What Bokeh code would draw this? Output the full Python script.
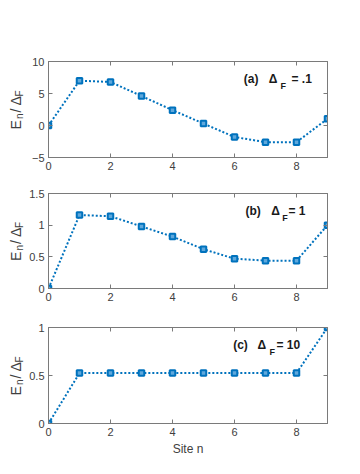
import math
from bokeh.plotting import figure
from bokeh.layouts import column, row
from bokeh.models import LinearAxis, FixedTicker, Range1d, Label, ColumnDataSource
from bokeh.embed import file_html
from bokeh.resources import INLINE

sites = [0, 1, 2, 3, 4, 5, 6, 7, 8, 9]
energy_a = [0.0, 7.0, 6.8, 4.6, 2.4, 0.3, -1.8, -2.6, -2.6, 1.05]
energy_b = [0.0, 1.16, 1.14, 0.98, 0.82, 0.62, 0.47, 0.44, 0.44, 1.0]
energy_c = [0.0, 0.525, 0.525, 0.525, 0.525, 0.525, 0.525, 0.525, 0.525, 1.0]
x_ticks = [0, 2, 4, 6, 8]
y_ticks_a = [-5, 0, 5, 10]
y_ticks_b = [0, 0.5, 1, 1.5]
y_ticks_c = [0, 0.5, 1]
tags = ["(a)", "(b)", "(c)"]
delta_vals = ["= .1", "= 1", "= 10"]

BLUE = "#0072BD"
AXC = "#7a7a7a"
TXT = "#404040"
FONT = "Liberation Sans"

LAB_W = 24
LEFT = 48
FRAME_W = 279
RIGHT = 33
MAIN_W = LEFT - LAB_W + FRAME_W + RIGHT


def ylabel_fig(frame_h, btop, bbot):
    f = figure(width=LAB_W, height=btop + frame_h + bbot, output_backend="svg",
               toolbar_location=None, x_range=Range1d(0, 1), y_range=Range1d(0, 1),
               min_border_left=0, min_border_right=0,
               min_border_top=btop, min_border_bottom=bbot,
               x_axis_location=None, y_axis_location=None)
    f.xgrid.visible = False
    f.ygrid.visible = False
    f.outline_line_color = None
    f.border_fill_color = "white"
    c = frame_h / 2.0
    start = c - 20
    pieces = [("E", 0, 14, 15), ("n", 10.5, 10, 19), ("/", 17, 14, 15),
              ("Δ", 24, 14, 15), ("F", 33, 10, 19)]
    for t, off, fs, xx in pieces:
        f.add_layout(Label(x=xx, y=start + off, x_units="screen", y_units="screen",
                           text=t, angle=math.pi / 2, text_font=FONT,
                           text_font_size=f"{fs}px", text_color=TXT,
                           text_align="left", text_baseline="alphabetic"))
    return f


def panel(yvals, yr, yticks, frame_h, btop, bbot, tag_x, tag, dval, xlabel=None):
    h = btop + frame_h + bbot
    p = figure(width=MAIN_W, height=h, output_backend="svg", toolbar_location=None,
               x_range=Range1d(0, 9), y_range=Range1d(*yr),
               min_border_left=LEFT - LAB_W, min_border_right=RIGHT,
               min_border_top=btop, min_border_bottom=bbot,
               x_axis_location=None, y_axis_location=None)
    p.xgrid.visible = False
    p.ygrid.visible = False
    p.outline_line_color = AXC
    p.background_fill_color = "white"
    p.border_fill_color = "white"

    def style(ax, labels=True):
        ax.axis_line_color = AXC
        ax.major_tick_line_color = AXC
        ax.minor_tick_line_color = None
        ax.major_tick_in = 4
        ax.major_tick_out = 0
        ax.major_label_text_font = FONT
        ax.major_label_text_font_size = "11px"
        ax.major_label_text_color = TXT if labels else None
        ax.major_label_standoff = 4

    xb = LinearAxis(ticker=FixedTicker(ticks=x_ticks))
    style(xb)
    if xlabel:
        xb.axis_label = xlabel
        xb.axis_label_text_font = FONT
        xb.axis_label_text_font_size = "12px"
        xb.axis_label_text_font_style = "normal"
        xb.axis_label_text_color = TXT
        xb.axis_label_standoff = 3
    p.add_layout(xb, "below")
    xt = LinearAxis(ticker=FixedTicker(ticks=x_ticks))
    style(xt, labels=False)
    p.add_layout(xt, "above")
    yl = LinearAxis(ticker=FixedTicker(ticks=yticks))
    style(yl)
    p.add_layout(yl, "left")
    yrgt = LinearAxis(ticker=FixedTicker(ticks=yticks))
    style(yrgt, labels=False)
    p.add_layout(yrgt, "right")

    src = ColumnDataSource(dict(x=sites, y=yvals))
    p.line("x", "y", source=src, line_color=BLUE, line_width=2, line_dash="2 2")
    p.scatter("x", "y", source=src, marker="square", size=5.5, line_width=2,
              line_color=BLUE, fill_color="#5fa8dc")

    base = frame_h - 17.5
    tx0, tx1, tx2, tx3 = tag_x
    for t, xx, yy, fs in [(tag, tx0, base, 12), ("Δ", tx1, base, 12),
                          ("F", tx2, base - 7, 9), (dval, tx3, base, 12)]:
        p.add_layout(Label(x=xx, y=yy, x_units="screen", y_units="screen",
                           text=t, text_font=FONT, text_font_size=f"{fs}px",
                           text_font_style="bold", text_color="#1a1a1a",
                           text_align="left", text_baseline="alphabetic"))
    return row(ylabel_fig(frame_h, btop, bbot), p, spacing=0)


pa = panel(energy_a, (-5, 10), y_ticks_a, 96, 61, 18, (195.3, 220.3, 232, 243),
           tags[0], delta_vals[0])
pb = panel(energy_b, (0, 1.5), y_ticks_b, 95, 18, 21, (197, 222.7, 233.7, 240),
           tags[1], delta_vals[1])
pc = panel(energy_c, (0, 1), y_ticks_c, 96, 18, 45, (184.7, 209, 221, 228),
           tags[2], delta_vals[2], xlabel="Site n")

layout = column(pa, pb, pc, spacing=0)
open("out.html", "w").write(file_html(layout, INLINE))
